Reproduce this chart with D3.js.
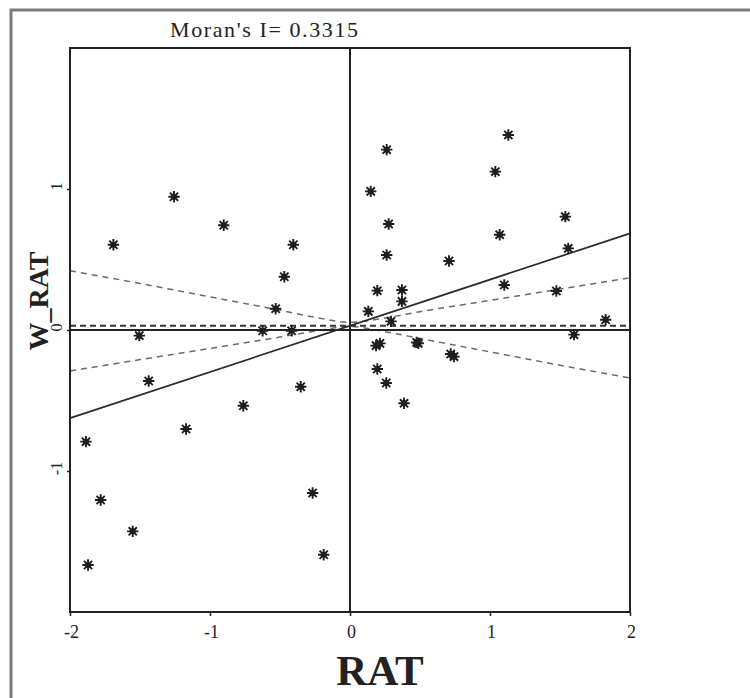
<!DOCTYPE html>
<html>
<head>
<meta charset="utf-8">
<script src="https://cdn.jsdelivr.net/npm/d3@7"></script>
<style>
  html, body { margin: 0; padding: 0; background: #fff; }
  svg text { font-family: "Liberation Serif", "Times New Roman", "DejaVu Serif", serif; fill: #222; }
</style>
</head>
<body>
<div id="chartDiv"></div>
<script>
// values
const titleText = "Moran's I= 0.3315";
const xLabel = "RAT";
const yLabel = "W_RAT";

const xTicks = [-2, -1, 0, 1, 2];
const yTicks = [-1, 0, 1];

// RAT (x) and W_RAT (y) for every star
const ratValues = [
  -1.257, -0.902, -1.690, -0.405, -0.469, -0.531, -0.624, -0.417, -1.505, -1.438,
  -0.352, -0.762, -1.171, -1.886, -1.781, -1.552, -1.871, -0.267, -0.188,
  0.262, 0.148, 1.131, 1.038, 1.538, 0.276, 1.069, 0.262, 1.559, 0.707,
  1.102, 1.474, 1.826, 1.600, 0.195, 0.371, 0.371, 0.131, 0.293, 0.186,
  0.214, 0.476, 0.488, 0.719, 0.743, 0.195, 0.259, 0.386
];
const wratValues = [
  0.945, 0.743, 0.605, 0.605, 0.378, 0.151, -0.005, -0.005, -0.040, -0.362,
  -0.402, -0.537, -0.702, -0.792, -1.206, -1.428, -1.667, -1.156, -1.594,
  1.279, 0.983, 1.383, 1.123, 0.804, 0.752, 0.676, 0.532, 0.579, 0.489,
  0.319, 0.277, 0.073, -0.033, 0.279, 0.284, 0.203, 0.132, 0.061, -0.111,
  -0.095, -0.088, -0.095, -0.170, -0.189, -0.277, -0.376, -0.520
];

// regression line (slope = Moran's I)
const fitX = [-2, 2];
const fitY = [-0.625, 0.685];

// flat dashed reference line
const refX = [-2, 2];
const refY = [0.03, 0.03];

// dashed envelope, read at these x positions
const bandX = [-2, -1.5, -1, -0.5, -0.25, 0, 0.25, 0.5, 1, 1.5, 2];
const bandUpper = [0.42, 0.33, 0.235, 0.14, 0.09, 0.055, 0.085, 0.13, 0.21, 0.29, 0.37];
const bandLower = [-0.29, -0.21, -0.13, -0.05, -0.008, 0.025, -0.012, -0.06, -0.155, -0.25, -0.34];

const width = 750, height = 698;
const plot = { left: 70, top: 48, right: 630, bottom: 612 };

let svg = d3.select("#chartDiv").append("svg")
    .attr("width", width)
    .attr("height", height);

// outer grey frame, runs off the right and bottom
svg.append("rect")
    .attr("x", 11).attr("y", 10)
    .attr("width", 800).attr("height", 760)
    .attr("fill", "none")
    .attr("stroke", "#7c7c7c")
    .attr("stroke-width", 3);

let x = d3.scaleLinear().domain([-2, 2]).range([plot.left, plot.right]);
let y = d3.scaleLinear().domain([-2, 2]).range([plot.bottom, plot.top]);

const line = d3.line().x(d => x(d[0])).y(d => y(d[1]));
const curve = d3.line().x(d => x(d[0])).y(d => y(d[1])).curve(d3.curveMonotoneX);

// envelope
[bandUpper, bandLower].forEach(b => {
    svg.append("path")
        .attr("d", curve(d3.zip(bandX, b)))
        .attr("fill", "none")
        .attr("stroke", "#6a6a6a")
        .attr("stroke-width", 1.5)
        .attr("stroke-dasharray", "6,5");
});

// reference line
svg.append("path")
    .attr("d", line(d3.zip(refX, refY)))
    .attr("fill", "none")
    .attr("stroke", "#333")
    .attr("stroke-width", 1.8)
    .attr("stroke-dasharray", "6,4");

// crosshair at 0,0
svg.append("line")
    .attr("x1", x(0)).attr("x2", x(0))
    .attr("y1", plot.top).attr("y2", plot.bottom)
    .attr("stroke", "#222").attr("stroke-width", 2);
svg.append("line")
    .attr("x1", plot.left).attr("x2", plot.right)
    .attr("y1", y(0)).attr("y2", y(0))
    .attr("stroke", "#222").attr("stroke-width", 2);

// regression line
svg.append("path")
    .attr("d", line(d3.zip(fitX, fitY)))
    .attr("fill", "none")
    .attr("stroke", "#2a2a2a")
    .attr("stroke-width", 1.7);

// plot box
svg.append("rect")
    .attr("x", plot.left).attr("y", plot.top)
    .attr("width", plot.right - plot.left)
    .attr("height", plot.bottom - plot.top)
    .attr("fill", "none")
    .attr("stroke", "#222")
    .attr("stroke-width", 2);

// axes (plain hyphen for the minus, as in the picture)
let xAxis = d3.axisBottom(x).tickValues(xTicks).tickSize(4).tickPadding(9)
    .tickFormat(d => String(d));
let gx = svg.append("g")
    .attr("transform", `translate(0, ${plot.bottom})`)
    .call(xAxis);
gx.select(".domain").remove();
gx.selectAll(".tick line").attr("stroke", "#222").attr("stroke-width", 1.5);
gx.selectAll(".tick text")
    .attr("font-family", null)
    .style("font-size", "18px")
    .attr("dx", "1");

let yAxis = d3.axisLeft(y).tickValues(yTicks).tickSize(3)
    .tickFormat(d => String(d));
let gy = svg.append("g")
    .attr("transform", `translate(${plot.left}, 0)`)
    .call(yAxis);
gy.select(".domain").remove();
gy.selectAll(".tick line").attr("stroke", "#222").attr("stroke-width", 1.5);
gy.selectAll(".tick text")
    .attr("font-family", null)
    .style("font-size", "16px")
    .attr("transform", "rotate(-90)")
    .attr("text-anchor", "middle")
    .attr("x", 3)
    .attr("y", -8)
    .attr("dy", 0);

// star markers: plus + times with a dark middle
const star = {
    draw(context, size) {
        const r = Math.sqrt(size) / 2;
        const d = r * 0.72;
        context.moveTo(-r, 0); context.lineTo(r, 0);
        context.moveTo(0, -r); context.lineTo(0, r);
        context.moveTo(-d, -d); context.lineTo(d, d);
        context.moveTo(-d, d); context.lineTo(d, -d);
    }
};
const points = d3.zip(ratValues, wratValues);
let marks = svg.append("g");
marks.selectAll("path.star")
    .data(points)
    .enter()
    .append("path")
    .attr("class", "star")
    .attr("transform", d => `translate(${x(d[0])}, ${y(d[1])})`)
    .attr("d", d3.symbol().type(star).size(130))
    .attr("fill", "none")
    .attr("stroke", "#1e1e1e")
    .attr("stroke-width", 1.9);
marks.selectAll("circle.core")
    .data(points)
    .enter()
    .append("circle")
    .attr("class", "core")
    .attr("cx", d => x(d[0]))
    .attr("cy", d => y(d[1]))
    .attr("r", 3)
    .attr("fill", "#1e1e1e");

// texts
svg.append("text")
    .attr("x", 264).attr("y", 37)
    .attr("text-anchor", "middle")
    .attr("textLength", 188)
    .attr("lengthAdjust", "spacing")
    .style("font-size", "22px")
    .text(titleText);

svg.append("text")
    .attr("x", 380).attr("y", 685)
    .attr("text-anchor", "middle")
    .style("font-size", "43px")
    .style("font-weight", "bold")
    .text(xLabel);

svg.append("text")
    .attr("transform", "translate(48, 301) rotate(-90)")
    .attr("text-anchor", "middle")
    .style("font-size", "28px")
    .style("font-weight", "bold")
    .text(yLabel);
</script>
</body>
</html>
